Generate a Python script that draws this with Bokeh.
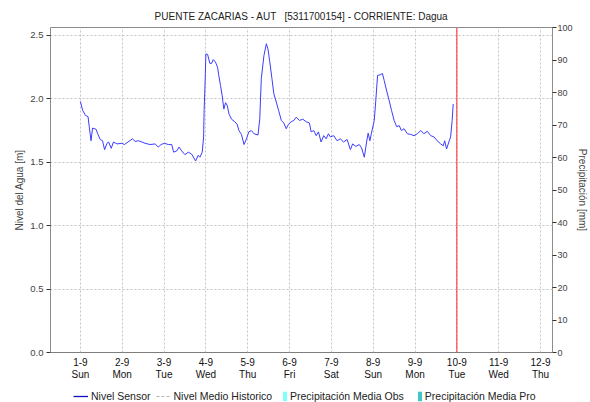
from bokeh.plotting import figure
from bokeh.layouts import column
from bokeh.models import Range1d, LinearAxis, FixedTicker, Span, Legend, LegendItem
from bokeh.embed import file_html
from bokeh.resources import INLINE

# hours since 1-9 00:00
hours = [0.0, 1.3, 2.9, 4.4, 5.1, 6.1, 7.0, 9.0, 10.1, 11.4, 12.7, 13.9, 15.3, 16.2, 17.7,
         19.0, 21.0, 23.8, 25.3, 27.3, 29.9, 31.4, 33.3, 35.3, 37.1, 40.0, 42.9, 44.7, 46.3,
         48.2, 50.5, 52.4, 53.5, 55.3, 56.6, 58.1, 60.0, 61.9, 63.8, 66.1, 67.6, 68.6, 69.9,
         70.7, 71.0, 71.4, 71.7, 72.0, 73.0, 74.3, 75.3, 76.2, 77.5, 78.7, 79.4, 80.4, 81.3,
         82.3, 83.3, 84.2, 85.3, 86.7, 88.6, 89.9, 91.0, 92.4, 93.9, 95.3, 96.6, 98.1, 99.6,
         101.9, 102.9, 103.8, 105.3, 106.7, 107.6, 108.6, 109.9, 111.0, 112.4, 113.7, 115.3,
         116.7, 118.1, 119.4, 121.0, 122.5, 123.8, 125.7, 127.6, 129.5, 131.4, 132.4, 133.9,
         135.3, 136.6, 138.1, 139.6, 141.0, 142.3, 143.4, 145.3, 147.3, 149.1, 151.0, 153.0,
         154.9, 156.2, 158.1, 160.0, 161.3, 162.9, 164.2, 165.1, 166.1, 167.0, 168.6, 169.5,
         170.5, 172.0, 173.3, 174.3, 175.6, 177.1, 178.5, 180.0, 181.5, 182.9, 184.2, 185.7,
         187.6, 189.5, 191.4, 193.3, 195.3, 197.1, 199.0, 201.0, 202.9, 204.7, 206.7, 208.2,
         209.0, 210.1, 211.4, 212.4, 213.3, 213.9]
nivel = [1.98, 1.91, 1.87, 1.86, 1.78, 1.67, 1.77, 1.76, 1.72, 1.68, 1.67, 1.60, 1.65, 1.66, 1.61,
         1.66, 1.645, 1.65, 1.64, 1.66, 1.685, 1.665, 1.67, 1.66, 1.65, 1.64, 1.645, 1.62, 1.64,
         1.65, 1.64, 1.64, 1.58, 1.59, 1.62, 1.59, 1.56, 1.58, 1.565, 1.51, 1.555, 1.54, 1.58,
         1.70, 1.91, 2.07, 2.20, 2.355, 2.35, 2.28, 2.28, 2.31, 2.29, 2.25, 2.185, 2.105, 2.03,
         1.92, 1.97, 1.95, 1.88, 1.84, 1.82, 1.80, 1.75, 1.72, 1.64, 1.685, 1.74, 1.75, 1.725,
         1.715, 1.84, 2.16, 2.34, 2.435, 2.395, 2.30, 2.16, 2.04, 1.975, 1.91, 1.83,
         1.81, 1.765, 1.80, 1.82, 1.83, 1.855, 1.83, 1.84, 1.82, 1.81, 1.74, 1.75,
         1.71, 1.74, 1.66, 1.71, 1.685, 1.725, 1.70, 1.71, 1.67, 1.685, 1.66, 1.68,
         1.60, 1.645, 1.625, 1.64, 1.615, 1.54, 1.66, 1.73, 1.67, 1.73, 1.83, 1.99,
         2.185, 2.19, 2.20, 2.145, 2.07, 1.99, 1.91, 1.83, 1.78, 1.79, 1.75, 1.765,
         1.725, 1.72, 1.71, 1.725, 1.75, 1.725, 1.745, 1.71, 1.70, 1.67, 1.645, 1.63,
         1.67, 1.605, 1.66, 1.70, 1.83, 1.96]

# precipitation (no rain recorded / forecast)
precip_hours = [0, 24, 48, 72, 96, 120, 144, 168, 192]
precip_obs = [0, 0, 0, 0, 0, 0, 0, 0, 0]
precip_pro = [0, 0, 0, 0, 0, 0, 0, 0, 0]

day_ticks = [0, 24, 48, 72, 96, 120, 144, 168, 192, 216, 240, 264]
day_labels = ["1-9\nSun", "2-9\nMon", "3-9\nTue", "4-9\nWed", "5-9\nThu", "6-9\nFri",
              "7-9\nSat", "8-9\nSun", "9-9\nMon", "10-9\nTue", "11-9\nWed", "12-9\nThu"]
level_ticks = [0.0, 0.5, 1.0, 1.5, 2.0, 2.5]
precip_ticks = [0, 10, 20, 30, 40, 50, 60, 70, 80, 90, 100]
now_hour = 216

FONT = "Liberation Sans"

main = figure(width=590, height=382, output_backend="svg", toolbar_location=None,
              x_range=Range1d(-17.14, 270.86), y_range=Range1d(0, 2.563),
              min_border_left=50, min_border_right=36, min_border_top=27, min_border_bottom=27,
              background_fill_color="white", border_fill_color="white")
main.extra_y_ranges = {"precip": Range1d(0, 100)}

main.title.text = "PUENTE ZACARIAS - AUT \u00a0\u00a0[5311700154] - CORRIENTE: Dagua"
main.title.align = "center"
main.title.text_font = FONT
main.title.text_font_size = "10px"
main.title.text_font_style = "normal"
main.title.text_color = "#222222"
main.title.standoff = 11

main.outline_line_color = "#8c8c8c"
main.outline_line_width = 1

# grids
main.xgrid.ticker = FixedTicker(ticks=day_ticks)
main.ygrid.ticker = FixedTicker(ticks=level_ticks)
for g in (main.xgrid[0], main.ygrid[0]):
    g.grid_line_color = "#c4c4c4"
    g.grid_line_dash = "2 2"
    g.grid_line_width = 1

# x axis
xa = main.xaxis[0]
xa.ticker = FixedTicker(ticks=day_ticks)
xa.major_label_overrides = {t: l for t, l in zip(day_ticks, day_labels)}
xa.axis_line_color = None
xa.major_tick_line_color = None
xa.major_tick_out = 0
xa.major_tick_in = 0
xa.minor_tick_line_color = None
xa.major_label_text_font = FONT
xa.major_label_text_font_size = "10px"
xa.major_label_text_line_height = 1.1
xa.major_label_text_color = "#111111"
xa.major_label_standoff = 4

# left axis
ya = main.yaxis[0]
ya.ticker = FixedTicker(ticks=level_ticks)
ya.major_label_overrides = {t: f"{t:.1f}" for t in level_ticks}
ya.axis_label = "Nivel del Agua [m]"
ya.axis_label_text_font = FONT
ya.axis_label_text_font_size = "10px"
ya.axis_label_text_font_style = "normal"
ya.axis_label_standoff = 2
ya.axis_line_color = None
ya.major_tick_line_color = "#333333"
ya.major_tick_in = 0
ya.major_tick_out = 4
ya.minor_tick_line_color = None
ya.major_label_text_font = FONT
ya.major_label_text_font_size = "9.5px"
ya.major_label_standoff = 3

# right axis
ra = LinearAxis(y_range_name="precip", ticker=FixedTicker(ticks=precip_ticks),
                axis_label="Precipitación [mm]")
ra.axis_label_text_font = FONT
ra.axis_label_text_font_size = "10px"
ra.axis_label_text_font_style = "normal"
ra.axis_label_text_line_height = 0.9
ra.axis_label_standoff = 1
ra.axis_line_color = None
ra.major_tick_line_color = "#333333"
ra.major_tick_in = 0
ra.major_tick_out = 4
ra.minor_tick_line_color = None
ra.major_label_text_font = FONT
ra.major_label_text_font_size = "9px"
ra.major_label_standoff = 1
main.add_layout(ra, "right")

# data
main.vbar(x=precip_hours, top=precip_obs, width=20, fill_color="#80ffff",
          line_color=None, y_range_name="precip")
main.vbar(x=precip_hours, top=precip_pro, width=20, fill_color="#40c8c8",
          line_color=None, y_range_name="precip")
main.line(hours, nivel, line_color="#3c3cff", line_width=1)

main.add_layout(Span(location=0, dimension="width", line_color="#555555",
                     line_dash="1 1", line_width=1))
main.add_layout(Span(location=now_hour, dimension="height", line_color="#ff2020",
                     line_width=1))

# legend strip (renderers kept out of view; only their legend swatches show)
leg = figure(width=590, height=20, output_backend="svg", toolbar_location=None,
             x_range=Range1d(1000, 1001), y_range=Range1d(1000, 1001),
             x_axis_location=None, y_axis_location=None,
             min_border_left=0, min_border_right=0, min_border_top=0, min_border_bottom=0,
             background_fill_color="white", border_fill_color="white")
leg.outline_line_color = None
leg.grid.visible = False
l_sensor = leg.line(hours, nivel, line_color="#1010c0", line_width=1.3)
l_hist = leg.line(precip_hours, precip_obs, line_color="#b4b4b4", line_dash="3 2", line_width=1)
l_obs = leg.vbar(x=precip_hours, top=precip_obs, width=1, fill_color="#80ffff", line_color=None)
l_pro = leg.vbar(x=precip_hours, top=precip_pro, width=1, fill_color="#40c8c8", line_color=None)

def style(lg):
    lg.label_text_font = FONT
    lg.label_text_font_size = "10.5px"
    lg.label_text_color = "#222222"
    lg.border_line_color = None
    lg.background_fill_alpha = 0
    lg.padding = 0
    lg.margin = 0
    lg.glyph_height = 12
    lg.label_height = 12
    lg.orientation = "horizontal"

# the strip's frame is aligned with the main frame (left edge at 50 px)
leg1 = Legend(items=[LegendItem(label="Nivel Sensor", renderers=[l_sensor]),
                     LegendItem(label="Nivel Medio Historico", renderers=[l_hist])],
              location=(23, 0))
style(leg1)
leg1.glyph_width = 15
leg1.label_standoff = 3
leg1.spacing = 5

leg2 = Legend(items=[LegendItem(label="Precipitación Media Obs", renderers=[l_obs]),
                     LegendItem(label="Precipitación Media Pro", renderers=[l_pro])],
              location=(232, 0))
style(leg2)
leg2.glyph_width = 5
leg2.label_standoff = 3
leg2.spacing = 13

leg.add_layout(leg1)
leg.add_layout(leg2)

p = column(main, leg, spacing=0)

open("out.html", "w").write(file_html(p, INLINE))
